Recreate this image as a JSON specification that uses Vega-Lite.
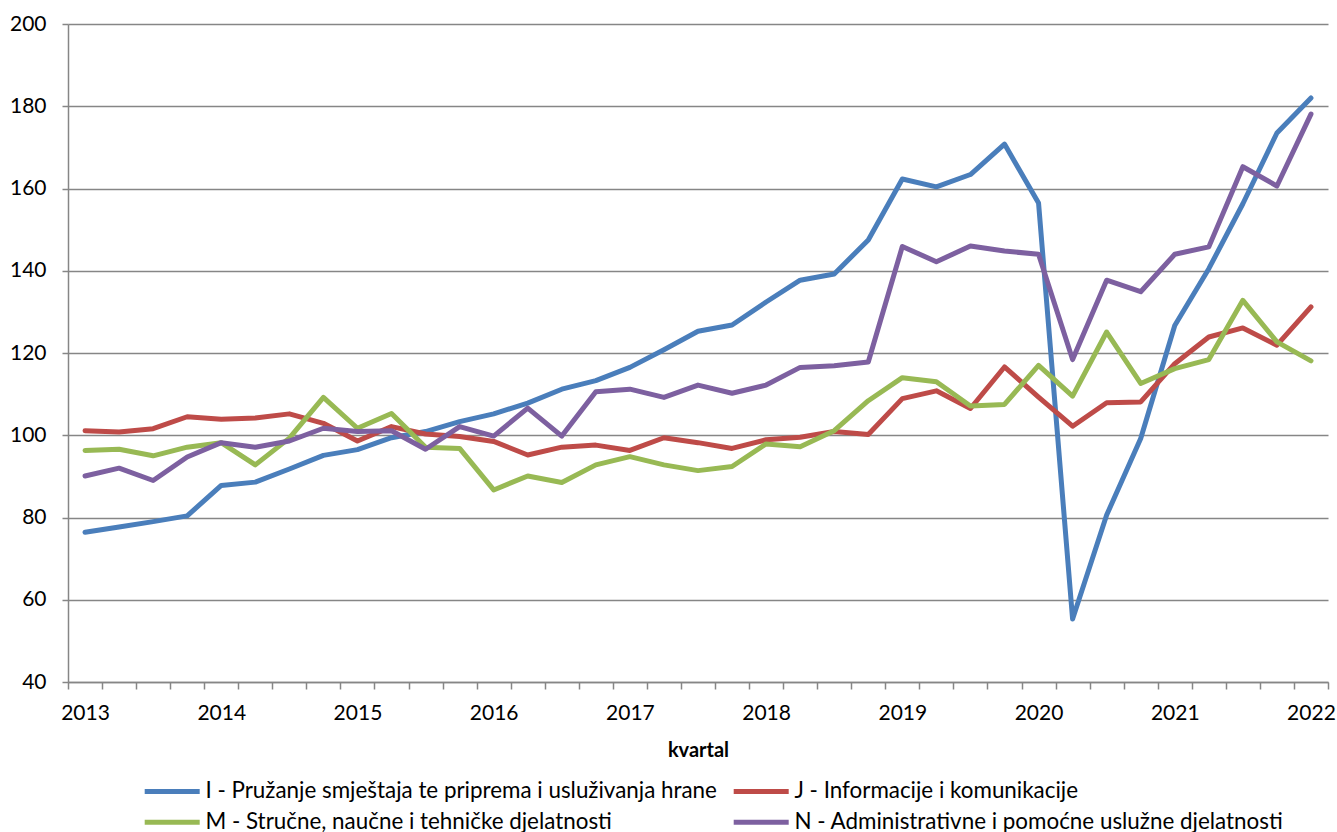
{
  "$schema": "https://vega.github.io/schema/vega-lite/v6.json",
  "width": 1260,
  "height": 658,
  "autosize": {"type": "none"},
  "padding": {"left": 68, "top": 24, "right": 9, "bottom": 150},
  "background": "white",
  "config": {"view": {"stroke": null}, "font": "Lato"},
  "datasets": {
    "serije": [
      {"kvartal":"2013-1","sektor":"I","vrijednost":76.4},{"kvartal":"2013-2","sektor":"I","vrijednost":77.7},{"kvartal":"2013-3","sektor":"I","vrijednost":79.0},{"kvartal":"2013-4","sektor":"I","vrijednost":80.4},
      {"kvartal":"2014-1","sektor":"I","vrijednost":87.8},{"kvartal":"2014-2","sektor":"I","vrijednost":88.6},{"kvartal":"2014-3","sektor":"I","vrijednost":91.8},{"kvartal":"2014-4","sektor":"I","vrijednost":95.1},
      {"kvartal":"2015-1","sektor":"I","vrijednost":96.5},{"kvartal":"2015-2","sektor":"I","vrijednost":99.4},{"kvartal":"2015-3","sektor":"I","vrijednost":100.9},{"kvartal":"2015-4","sektor":"I","vrijednost":103.3},
      {"kvartal":"2016-1","sektor":"I","vrijednost":105.2},{"kvartal":"2016-2","sektor":"I","vrijednost":107.8},{"kvartal":"2016-3","sektor":"I","vrijednost":111.2},{"kvartal":"2016-4","sektor":"I","vrijednost":113.3},
      {"kvartal":"2017-1","sektor":"I","vrijednost":116.5},{"kvartal":"2017-2","sektor":"I","vrijednost":120.8},{"kvartal":"2017-3","sektor":"I","vrijednost":125.3},{"kvartal":"2017-4","sektor":"I","vrijednost":126.8},
      {"kvartal":"2018-1","sektor":"I","vrijednost":132.4},{"kvartal":"2018-2","sektor":"I","vrijednost":137.7},{"kvartal":"2018-3","sektor":"I","vrijednost":139.2},{"kvartal":"2018-4","sektor":"I","vrijednost":147.5},
      {"kvartal":"2019-1","sektor":"I","vrijednost":162.3},{"kvartal":"2019-2","sektor":"I","vrijednost":160.4},{"kvartal":"2019-3","sektor":"I","vrijednost":163.4},{"kvartal":"2019-4","sektor":"I","vrijednost":170.8},
      {"kvartal":"2020-1","sektor":"I","vrijednost":156.5},{"kvartal":"2020-2","sektor":"I","vrijednost":55.3},{"kvartal":"2020-3","sektor":"I","vrijednost":80.6},{"kvartal":"2020-4","sektor":"I","vrijednost":99.2},
      {"kvartal":"2021-1","sektor":"I","vrijednost":126.7},{"kvartal":"2021-2","sektor":"I","vrijednost":140.5},{"kvartal":"2021-3","sektor":"I","vrijednost":156.3},{"kvartal":"2021-4","sektor":"I","vrijednost":173.5},
      {"kvartal":"2022-1","sektor":"I","vrijednost":182.0},

      {"kvartal":"2013-1","sektor":"J","vrijednost":101.1},{"kvartal":"2013-2","sektor":"J","vrijednost":100.8},{"kvartal":"2013-3","sektor":"J","vrijednost":101.6},{"kvartal":"2013-4","sektor":"J","vrijednost":104.5},
      {"kvartal":"2014-1","sektor":"J","vrijednost":103.9},{"kvartal":"2014-2","sektor":"J","vrijednost":104.2},{"kvartal":"2014-3","sektor":"J","vrijednost":105.2},{"kvartal":"2014-4","sektor":"J","vrijednost":102.9},
      {"kvartal":"2015-1","sektor":"J","vrijednost":98.6},{"kvartal":"2015-2","sektor":"J","vrijednost":102.1},{"kvartal":"2015-3","sektor":"J","vrijednost":100.3},{"kvartal":"2015-4","sektor":"J","vrijednost":99.7},
      {"kvartal":"2016-1","sektor":"J","vrijednost":98.5},{"kvartal":"2016-2","sektor":"J","vrijednost":95.2},{"kvartal":"2016-3","sektor":"J","vrijednost":97.1},{"kvartal":"2016-4","sektor":"J","vrijednost":97.6},
      {"kvartal":"2017-1","sektor":"J","vrijednost":96.3},{"kvartal":"2017-2","sektor":"J","vrijednost":99.4},{"kvartal":"2017-3","sektor":"J","vrijednost":98.2},{"kvartal":"2017-4","sektor":"J","vrijednost":96.8},
      {"kvartal":"2018-1","sektor":"J","vrijednost":98.9},{"kvartal":"2018-2","sektor":"J","vrijednost":99.5},{"kvartal":"2018-3","sektor":"J","vrijednost":100.9},{"kvartal":"2018-4","sektor":"J","vrijednost":100.2},
      {"kvartal":"2019-1","sektor":"J","vrijednost":108.9},{"kvartal":"2019-2","sektor":"J","vrijednost":110.8},{"kvartal":"2019-3","sektor":"J","vrijednost":106.5},{"kvartal":"2019-4","sektor":"J","vrijednost":116.6},
      {"kvartal":"2020-1","sektor":"J","vrijednost":109.3},{"kvartal":"2020-2","sektor":"J","vrijednost":102.2},{"kvartal":"2020-3","sektor":"J","vrijednost":107.9},{"kvartal":"2020-4","sektor":"J","vrijednost":108.1},
      {"kvartal":"2021-1","sektor":"J","vrijednost":117.4},{"kvartal":"2021-2","sektor":"J","vrijednost":123.9},{"kvartal":"2021-3","sektor":"J","vrijednost":126.1},{"kvartal":"2021-4","sektor":"J","vrijednost":121.9},
      {"kvartal":"2022-1","sektor":"J","vrijednost":131.2},

      {"kvartal":"2013-1","sektor":"M","vrijednost":96.3},{"kvartal":"2013-2","sektor":"M","vrijednost":96.6},{"kvartal":"2013-3","sektor":"M","vrijednost":95.0},{"kvartal":"2013-4","sektor":"M","vrijednost":97.1},
      {"kvartal":"2014-1","sektor":"M","vrijednost":98.2},{"kvartal":"2014-2","sektor":"M","vrijednost":92.8},{"kvartal":"2014-3","sektor":"M","vrijednost":99.3},{"kvartal":"2014-4","sektor":"M","vrijednost":109.2},
      {"kvartal":"2015-1","sektor":"M","vrijednost":101.7},{"kvartal":"2015-2","sektor":"M","vrijednost":105.3},{"kvartal":"2015-3","sektor":"M","vrijednost":97.1},{"kvartal":"2015-4","sektor":"M","vrijednost":96.8},
      {"kvartal":"2016-1","sektor":"M","vrijednost":86.7},{"kvartal":"2016-2","sektor":"M","vrijednost":90.1},{"kvartal":"2016-3","sektor":"M","vrijednost":88.5},{"kvartal":"2016-4","sektor":"M","vrijednost":92.8},
      {"kvartal":"2017-1","sektor":"M","vrijednost":94.8},{"kvartal":"2017-2","sektor":"M","vrijednost":92.8},{"kvartal":"2017-3","sektor":"M","vrijednost":91.4},{"kvartal":"2017-4","sektor":"M","vrijednost":92.4},
      {"kvartal":"2018-1","sektor":"M","vrijednost":97.9},{"kvartal":"2018-2","sektor":"M","vrijednost":97.2},{"kvartal":"2018-3","sektor":"M","vrijednost":101.1},{"kvartal":"2018-4","sektor":"M","vrijednost":108.4},
      {"kvartal":"2019-1","sektor":"M","vrijednost":114.0},{"kvartal":"2019-2","sektor":"M","vrijednost":113.0},{"kvartal":"2019-3","sektor":"M","vrijednost":107.1},{"kvartal":"2019-4","sektor":"M","vrijednost":107.5},
      {"kvartal":"2020-1","sektor":"M","vrijednost":117.0},{"kvartal":"2020-2","sektor":"M","vrijednost":109.5},{"kvartal":"2020-3","sektor":"M","vrijednost":125.1},{"kvartal":"2020-4","sektor":"M","vrijednost":112.6},
      {"kvartal":"2021-1","sektor":"M","vrijednost":116.2},{"kvartal":"2021-2","sektor":"M","vrijednost":118.4},{"kvartal":"2021-3","sektor":"M","vrijednost":132.8},{"kvartal":"2021-4","sektor":"M","vrijednost":122.7},
      {"kvartal":"2022-1","sektor":"M","vrijednost":118.1},

      {"kvartal":"2013-1","sektor":"N","vrijednost":90.1},{"kvartal":"2013-2","sektor":"N","vrijednost":92.0},{"kvartal":"2013-3","sektor":"N","vrijednost":89.0},{"kvartal":"2013-4","sektor":"N","vrijednost":94.7},
      {"kvartal":"2014-1","sektor":"N","vrijednost":98.2},{"kvartal":"2014-2","sektor":"N","vrijednost":97.1},{"kvartal":"2014-3","sektor":"N","vrijednost":98.6},{"kvartal":"2014-4","sektor":"N","vrijednost":101.7},
      {"kvartal":"2015-1","sektor":"N","vrijednost":100.9},{"kvartal":"2015-2","sektor":"N","vrijednost":101.1},{"kvartal":"2015-3","sektor":"N","vrijednost":96.6},{"kvartal":"2015-4","sektor":"N","vrijednost":102.1},
      {"kvartal":"2016-1","sektor":"N","vrijednost":99.8},{"kvartal":"2016-2","sektor":"N","vrijednost":106.6},{"kvartal":"2016-3","sektor":"N","vrijednost":99.8},{"kvartal":"2016-4","sektor":"N","vrijednost":110.6},
      {"kvartal":"2017-1","sektor":"N","vrijednost":111.2},{"kvartal":"2017-2","sektor":"N","vrijednost":109.2},{"kvartal":"2017-3","sektor":"N","vrijednost":112.2},{"kvartal":"2017-4","sektor":"N","vrijednost":110.2},
      {"kvartal":"2018-1","sektor":"N","vrijednost":112.2},{"kvartal":"2018-2","sektor":"N","vrijednost":116.5},{"kvartal":"2018-3","sektor":"N","vrijednost":116.9},{"kvartal":"2018-4","sektor":"N","vrijednost":117.8},
      {"kvartal":"2019-1","sektor":"N","vrijednost":145.9},{"kvartal":"2019-2","sektor":"N","vrijednost":142.2},{"kvartal":"2019-3","sektor":"N","vrijednost":146.0},{"kvartal":"2019-4","sektor":"N","vrijednost":144.8},
      {"kvartal":"2020-1","sektor":"N","vrijednost":144.0},{"kvartal":"2020-2","sektor":"N","vrijednost":118.4},{"kvartal":"2020-3","sektor":"N","vrijednost":137.7},{"kvartal":"2020-4","sektor":"N","vrijednost":134.9},
      {"kvartal":"2021-1","sektor":"N","vrijednost":144.0},{"kvartal":"2021-2","sektor":"N","vrijednost":145.8},{"kvartal":"2021-3","sektor":"N","vrijednost":165.3},{"kvartal":"2021-4","sektor":"N","vrijednost":160.6},
      {"kvartal":"2022-1","sektor":"N","vrijednost":178.1}
    ],
    "nazivi": [
      {"sektor":"I","naziv":"I - Pružanje smještaja te priprema i usluživanja hrane"},
      {"sektor":"J","naziv":"J - Informacije i komunikacije"},
      {"sektor":"M","naziv":"M - Stručne, naučne i tehničke djelatnosti"},
      {"sektor":"N","naziv":"N - Administrativne i pomoćne uslužne djelatnosti"}
    ]
  },
  "data": {"name": "serije"},
  "transform": [
    {"lookup": "sektor", "from": {"data": {"name": "nazivi"}, "key": "sektor", "fields": ["naziv"]}}
  ],
  "mark": {"type": "line", "strokeWidth": 5, "strokeCap": "round", "strokeJoin": "round"},
  "encoding": {
    "x": {
      "field": "kvartal",
      "type": "ordinal",
      "scale": {"type": "band", "paddingInner": 0, "paddingOuter": 0},
      "axis": {
        "title": "kvartal",
        "titleFont": "Lato",
        "titleFontWeight": "bold",
        "titleFontSize": 20,
        "titleColor": "black",
        "titleY": 74,
        "titleBaseline": "alphabetic",
        "labelExpr": "substring(datum.value, 5) == '1' ? substring(datum.value, 0, 4) : ''",
        "labelAngle": 0,
        "labelOverlap": false,
        "labelFlush": false,
        "labelFontSize": 21,
        "labelColor": "black",
        "labelPadding": 13,
        "tickBand": "extent",
        "tickSize": 7,
        "tickColor": "#868686",
        "tickWidth": 1.5,
        "domainColor": "#868686",
        "domainWidth": 1.5,
        "grid": false
      }
    },
    "y": {
      "field": "vrijednost",
      "type": "quantitative",
      "scale": {"domain": [40, 200], "nice": false, "zero": false},
      "axis": {
        "title": null,
        "values": [40, 60, 80, 100, 120, 140, 160, 180, 200],
        "labelFontSize": 21,
        "labelColor": "black",
        "labelPadding": 16,
        "tickSize": 6,
        "tickColor": "#868686",
        "tickWidth": 1.5,
        "domainColor": "#868686",
        "domainWidth": 1.5,
        "grid": true,
        "gridColor": "#868686",
        "gridWidth": 1.5
      }
    },
    "color": {
      "field": "naziv",
      "type": "nominal",
      "scale": {
        "domain": [
          "I - Pružanje smještaja te priprema i usluživanja hrane",
          "J - Informacije i komunikacije",
          "M - Stručne, naučne i tehničke djelatnosti",
          "N - Administrativne i pomoćne uslužne djelatnosti"
        ],
        "range": ["#4A7EBB", "#BE4B48", "#98B954", "#7D60A0"]
      },
      "legend": {
        "title": null,
        "orient": "none",
        "legendX": 93,
        "legendY": 756,
        "direction": "horizontal",
        "columns": 2,
        "symbolType": "M-5.5,0H5.5",
        "symbolSize": 100,
        "symbolStrokeWidth": 5,
        "labelFontSize": 22.4,
        "labelFont": "Lato",
        "labelColor": "black",
        "labelLimit": 1000,
        "labelOffset": 22,
        "columnPadding": 6,
        "rowPadding": 8,
        "padding": 0,
        "symbolOpacity": 1
      }
    }
  }
}
